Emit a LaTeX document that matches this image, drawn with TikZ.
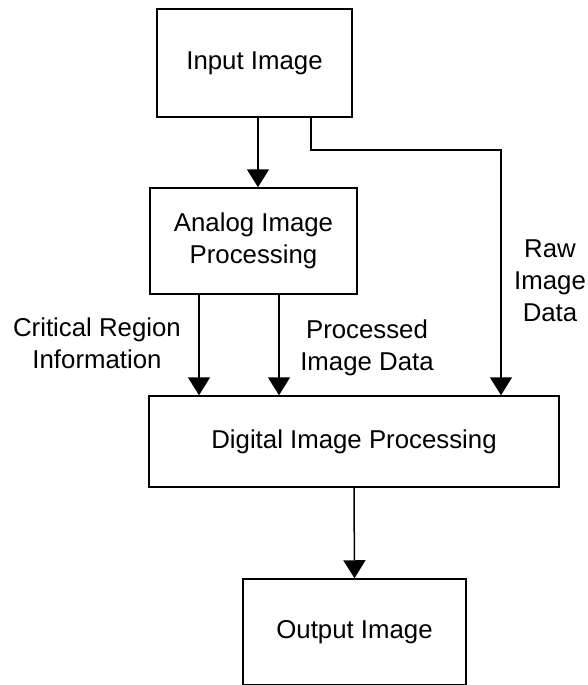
\documentclass[tikz,border=0pt]{standalone}
\usepackage{fontspec}
\setmainfont{Liberation Sans}
\usetikzlibrary{arrows.meta}

\begin{document}
\begin{tikzpicture}[x=1pt, y=-1pt, % one unit per pixel, y going down
    block/.style={draw, line width=1.5pt, inner sep=0pt, align=center},
    flow/.style={line width=1.5pt, -{Triangle[width=22pt, length=18pt]}},
    lbl/.style={align=center},
    font=\fontsize{25.8}{32}\selectfont]
    % Fix the page size
    \useasboundingbox (0,0) rectangle (587,685);

    % Blocks
    \node[block, minimum width=195pt, minimum height=108pt] (input) at (254.5,63) {Input Image};
    \node[block, minimum width=207pt, minimum height=106pt] (analog) at (253.5,241) {Analog Image\\Processing};
    \node[block, minimum width=410pt, minimum height=91pt] (digital) at (354,441.5) {Digital Image Processing};
    \node[block, minimum width=223pt, minimum height=106pt] (output) at (354.5,632) {Output Image};

    % Labels of the data paths
    \node[lbl] (critical) at (97,343.5) {Critical Region\\Information};
    \node[lbl] (processed) at (367,348) {Processed\\Image Data};
    \node[lbl] (raw) at (550,280.5) {Raw\\Image\\Data};

    % Where the connectors leave the blocks
    \coordinate (in1) at ([xshift=3.5pt]input.south);
    \coordinate (rawout) at ([xshift=56.5pt]input.south);
    \coordinate (rawbend) at (501,150);
    \coordinate (crit) at ([xshift=-54.5pt]analog.south);
    \coordinate (proc) at ([xshift=25.5pt]analog.south);

    % Connectors
    \draw[flow] (in1) -- (in1 |- analog.north);
    \draw[flow] (rawout) |- (rawbend) -- (rawbend |- digital.north);
    \draw[flow] (crit) -- (crit |- digital.north);
    \draw[flow] (proc) -- (proc |- digital.north);
    \draw[flow] (digital.south) -- (output.north);
\end{tikzpicture}
\end{document}
